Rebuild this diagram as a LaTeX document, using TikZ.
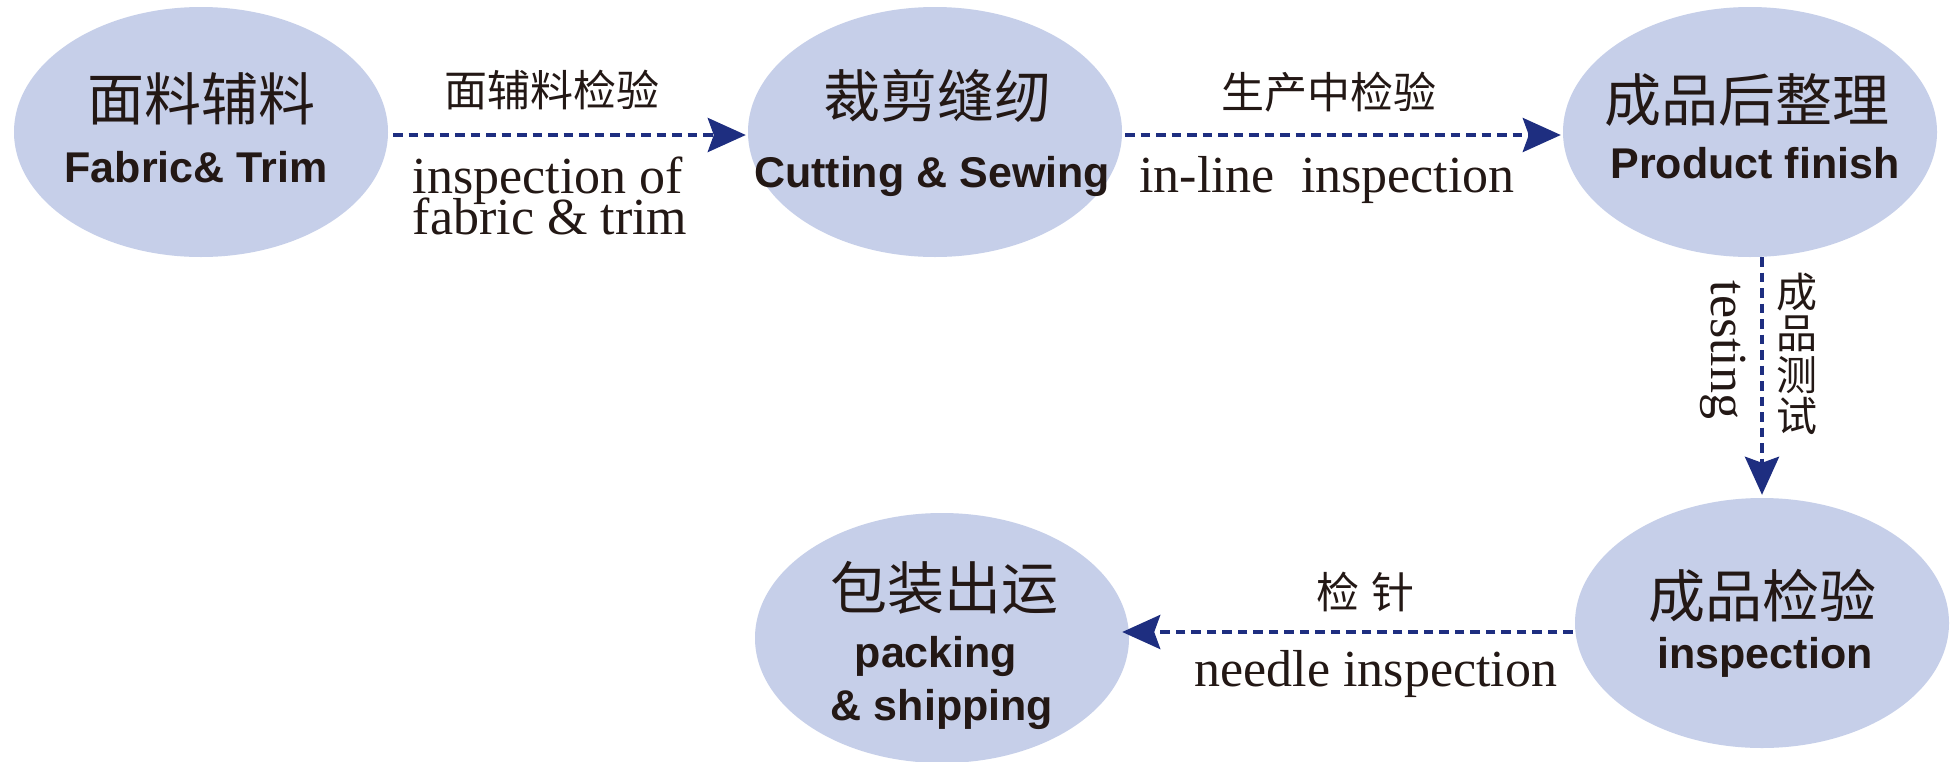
\documentclass[tikz,border=0pt]{standalone}
\usepackage{fontspec}
\setmainfont{Liberation Serif}
\newfontfamily\cjkf{Noto Sans CJK SC}
\newfontfamily\arialf{Liberation Sans}
\usetikzlibrary{shapes.geometric,arrows.meta,calc}
\definecolor{ellfill}{RGB}{198,207,233}
\definecolor{navy}{RGB}{30,46,128}
\definecolor{ink}{RGB}{35,24,21}
\begin{document}
\begin{tikzpicture}[x=1pt,y=-1pt,
  stage/.style={ellipse, fill=ellfill, draw=none, minimum width=374pt, minimum height=250pt, inner sep=0pt},
  title/.style={font=\cjkf\fontsize{57}{60}\selectfont, text=ink, inner sep=0pt},
  entitle/.style={font=\arialf\bfseries\fontsize{43}{48}\selectfont, text=ink, inner sep=0pt, anchor=base},
  cjklab/.style={font=\cjkf\fontsize{43}{46}\selectfont, text=ink, inner sep=0pt},
  enlab/.style={font=\fontsize{52}{52}\selectfont, text=ink, inner sep=0pt, anchor=base},
  conn/.style={navy, line width=4pt, dash pattern=on 9.5pt off 6pt, -{Stealth[length=38pt,width=34pt,inset=6pt]}},
]
\fill[white] (0,0) rectangle (1957,761);
\useasboundingbox (0,0) rectangle (1957,761);

% stages
\node[stage] (e1) at (201,132) {};
\node[stage] (e2) at (935,132) {};
\node[stage] (e3) at (1750,132) {};
\node[stage] (e4) at (1762,623) {};
\node[stage] (e5) at (942,638) {};

% stage texts
\node[title] (t1) at (201,99) {面料辅料};
\node[entitle] (s1) at (196,182) {Fabric\& Trim};
\node[title] (t2) at (937,96) {裁剪缝纫};
\node[entitle] (s2) at (932,187) {Cutting \& Sewing};
\node[title] (t3) at (1747,100) {成品后整理};
\node[entitle] (s3) at (1755,178) {Product finish};
\node[title] (t4) at (1762,596) {成品检验};
\node[entitle] (s4) at (1765,668) {inspection};
\node[title] (t5) at (944,588) {包装出运};
\node[entitle] (s5a) at (936,667) {packing};
\node[entitle] (s5b) at (942,720) {\& shipping};

% connectors
\draw[conn, shorten <=5pt, shorten >=2pt] ([yshift=-3pt]e1.east) -- ([yshift=-3pt]e2.west);
\draw[conn, shorten <=3pt, shorten >=2pt] ([yshift=-3pt]e2.east) -- ([yshift=-3pt]e3.west);
\draw[conn, shorten <=0pt, shorten >=3pt] (e3.south -| e4.north) -- (e4.north);
\draw[conn, shorten <=2pt, shorten >=-7pt] ([yshift=-9pt]e4.west) -- ([yshift=-9pt]e4.west -| e5.east);

% connector labels
\node[cjklab] (l1) at (552,90) {面辅料检验};
\node[enlab] (l1a) at (548,193) {inspection of};
\node[enlab] (l1b) at (550,234) {fabric \& trim};
\node[cjklab] (l2) at (1329,92) {生产中检验};
\node[enlab] (l2a) at (1327,192) {in-line\hspace{26pt}inspection};
\node[enlab, rotate=-90, anchor=center] (l3a) at (1723,350) {testing};
\node[cjklab, align=center, font=\cjkf\fontsize{41}{41.5}\selectfont] (l3) at (1797,354) {成\\品\\测\\试};
\node[cjklab] (l4) at (1365,592) {检\hspace{12pt}针};
\node[enlab] (l4a) at (1376,686) {needle inspection};
\end{tikzpicture}
\end{document}
